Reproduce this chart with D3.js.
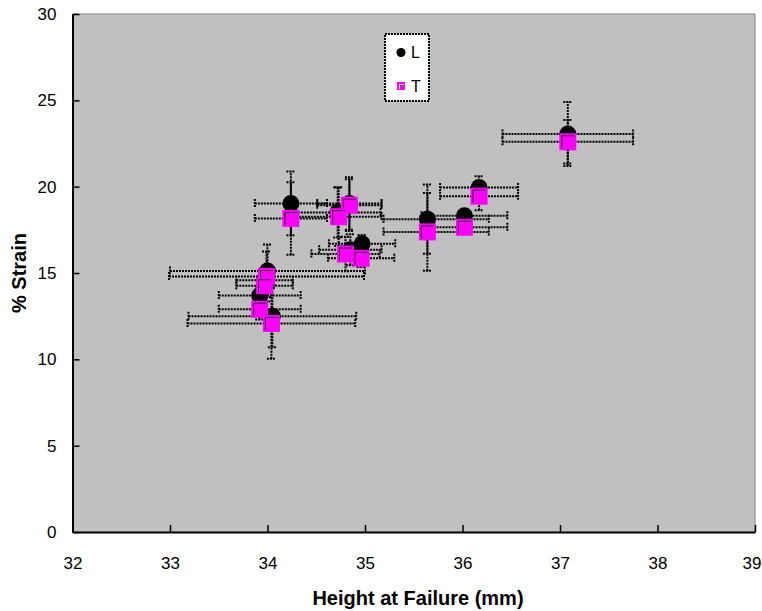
<!DOCTYPE html>
<html>
<head>
<meta charset="utf-8">
<script src="https://cdn.jsdelivr.net/npm/d3@7/dist/d3.min.js"></script>
<style>
  html, body { margin: 0; padding: 0; background: #ffffff; }
  svg { display: block; }
  text { font-family: "Liberation Sans", Arial, sans-serif; }
</style>
</head>
<body>
<svg id="chart" width="762" height="611"></svg>
<script>
// ---- Data ----
const seriesNames = ["L", "T"];
const xTicks = [32, 33, 34, 35, 36, 37, 38, 39];
const yTicks = [0, 5, 10, 15, 20, 25, 30];

// Series L (black circles)
const L_x      = [37.08, 36.17, 36.02, 35.64, 34.24, 34.84, 34.72, 34.97, 34.85, 34.00, 33.97, 33.92, 34.05];
const L_y      = [23.05, 19.95, 18.32, 18.12, 19.03, 19.02, 18.50, 16.70, 16.35, 15.12, 14.58, 13.70, 12.50];
const L_xErrLo = [0.67, 0.40, 0.44, 0.45, 0.37, 0.33, 0.44, 0.34, 0.32, 1.00, 0.29, 0.42, 0.86];
const L_xErrHi = [0.67, 0.40, 0.44, 0.63, 0.37, 0.33, 0.44, 0.34, 0.32, 1.00, 0.29, 0.42, 0.86];
const L_yErr   = [1.85, 0.65, 0.30, 2.00, 1.85, 1.52, 1.45, 0.50, 0.90, 1.53, 0.40, 0.50, 1.80];

// Series T (magenta squares)
const T_x      = [37.08, 36.17, 36.02, 35.64, 34.24, 34.84, 34.73, 34.96, 34.80, 33.99, 33.97, 33.92, 34.04];
const T_y      = [22.60, 19.45, 17.65, 17.38, 18.16, 18.93, 18.26, 15.85, 16.10, 14.80, 14.26, 12.90, 12.08];
const T_xErrLo = [0.67, 0.40, 0.44, 0.45, 0.37, 0.33, 0.44, 0.34, 0.35, 1.00, 0.29, 0.42, 0.86];
const T_xErrHi = [0.67, 0.40, 0.44, 0.63, 0.37, 0.33, 0.44, 0.34, 0.35, 1.00, 0.29, 0.42, 0.86];
const T_yErr   = [1.26, 0.82, 0.40, 2.25, 2.10, 1.50, 1.70, 0.50, 1.00, 1.45, 0.50, 0.60, 2.05];

const xTitle = "Height at Failure (mm)";
const yTitle = "% Strain";

// ---- Build series ----
function build(xs, ys, xlo, xhi, ye) {
  return xs.map((x, i) => ({ x, y: ys[i], xlo: xlo[i], xhi: xhi[i], ye: ye[i] }));
}
const dataL = build(L_x, L_y, L_xErrLo, L_xErrHi, L_yErr);
const dataT = build(T_x, T_y, T_xErrLo, T_xErrHi, T_yErr);

// ---- Layout ----
const plot = { left: 72.5, right: 755, top: 14, bottom: 532 };
const svg = d3.select("#chart");

const x = d3.scaleLinear().domain([32, 39]).range([plot.left, plot.right]);
const y = d3.scaleLinear().domain([0, 30]).range([plot.bottom, plot.top]);

// plot background
svg.append("rect")
  .attr("x", plot.left).attr("y", plot.top)
  .attr("width", plot.right - plot.left).attr("height", plot.bottom - plot.top)
  .attr("fill", "#C0C0C0");
// top & right border (grey)
svg.append("path")
  .attr("d", `M${plot.left},${plot.top}H${plot.right}V${plot.bottom}`)
  .attr("fill", "none").attr("stroke", "#808080").attr("stroke-width", 1);

// ---- Axes ----
const gx = svg.append("g")
  .attr("transform", `translate(0,${plot.bottom})`)
  .call(d3.axisBottom(x).tickValues(xTicks).tickFormat(d3.format("d"))
        .tickSizeInner(-7).tickSizeOuter(0).tickPadding(25));
const gy = svg.append("g")
  .attr("transform", `translate(${plot.left},0)`)
  .call(d3.axisLeft(y).tickValues(yTicks).tickFormat(d3.format("d"))
        .tickSizeInner(-7).tickSizeOuter(0).tickPadding(16));
[gx, gy].forEach(g => {
  g.select(".domain").attr("stroke", "#000").attr("stroke-width", 2);
  g.selectAll(".tick line").attr("stroke", "#000").attr("stroke-width", 1.5);
  g.selectAll(".tick text").attr("fill", "#000")
    .style("font-family", "'Liberation Sans', Arial, sans-serif").style("font-size", "17px");
});
// keep the last x label inside the picture
gx.selectAll(".tick text").filter(d => d === xTicks[xTicks.length - 1])
  .attr("dx", "-3.5");

// axis titles
svg.append("text")
  .attr("x", 418).attr("y", 605)
  .attr("text-anchor", "middle")
  .style("font-size", "20px").style("font-weight", "bold")
  .text(xTitle);
svg.append("text")
  .attr("transform", `translate(26,${(plot.top + plot.bottom) / 2}) rotate(-90)`)
  .attr("text-anchor", "middle")
  .style("font-size", "20px").style("font-weight", "bold")
  .text(yTitle);

// ---- Error bars ----
const cap = 4.5;
function drawErrors(data) {
  const g = svg.append("g")
    .attr("fill", "none").attr("stroke", "#000").attr("stroke-width", 2)
    .attr("stroke-dasharray", "2,1");
  data.forEach(d => {
    const px = x(d.x), py = y(d.y);
    const x0 = x(d.x - d.xlo), x1 = x(d.x + d.xhi);
    const y0 = y(d.y - d.ye), y1 = y(d.y + d.ye);
    g.append("path").attr("d",
      `M${x0},${py}H${x1}` +
      `M${x0},${py - cap}V${py + cap}` +
      `M${x1},${py - cap}V${py + cap}`);
    g.append("path").attr("d",
      `M${px},${y0}V${y1}` +
      `M${px - cap},${y0}H${px + cap}` +
      `M${px - cap},${y1}H${px + cap}`);
  });
}

function drawCircles(data, r) {
  svg.append("g").selectAll("circle").data(data).join("circle")
    .attr("cx", d => x(d.x)).attr("cy", d => y(d.y)).attr("r", r)
    .attr("fill", "#000");
}

function drawSquares(data, s) {
  const g = svg.append("g");
  data.forEach(d => {
    const px = x(d.x), py = y(d.y);
    g.append("rect")
      .attr("x", px - s / 2).attr("y", py - s / 2)
      .attr("width", s).attr("height", s)
      .attr("fill", "#FF00FF");
    g.append("path")
      .attr("d", `M${px - s / 2 + 2.5},${py + s / 2 - 2}V${py - s / 2 + 2.5}H${px + s / 2 - 2}`)
      .attr("fill", "none").attr("stroke", "#300030").attr("stroke-width", 1);
  });
}

drawErrors(dataL);
drawCircles(dataL, 8.5);
drawErrors(dataT);
drawSquares(dataT, 17);

// ---- Legend ----
const lg = svg.append("g");
lg.append("rect")
  .attr("x", 385).attr("y", 34).attr("width", 44).attr("height", 67)
  .attr("fill", "#fff").attr("stroke", "#000").attr("stroke-width", 2)
  .attr("stroke-dasharray", "2,1");
lg.append("circle").attr("cx", 401).attr("cy", 52.5).attr("r", 4.5).attr("fill", "#000");
lg.append("text").attr("x", 411).attr("y", 58).style("font-size", "16px").text(seriesNames[0]);
lg.append("rect").attr("x", 397).attr("y", 82).attr("width", 8).attr("height", 8).attr("fill", "#FF00FF");
lg.append("path").attr("d", "M399.5,89V84.5H404").attr("fill", "none").attr("stroke", "#fff").attr("stroke-width", 1);
lg.append("text").attr("x", 411).attr("y", 92).style("font-size", "16px").text(seriesNames[1]);
</script>
</body>
</html>
